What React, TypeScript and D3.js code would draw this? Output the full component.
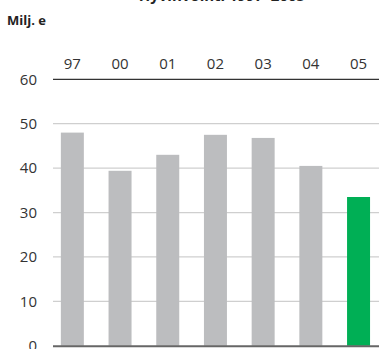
import React from "react";
import * as d3 from "d3";

const categories = ["97", "00", "01", "02", "03", "04", "05"];
const values = [48.0, 39.4, 43.0, 47.5, 46.8, 40.5, 33.5];
const yTicks = [0, 10, 20, 30, 40, 50, 60];
const unitLabel = "Milj. e";
const title = "Hyvinvointi 1997–2005";

const W = 379;
const H = 349;

export default function App() {
  const x = d3
    .scaleBand<string>()
    .domain(categories)
    .range([48.5, 382.4])
    .paddingInner(0.518)
    .paddingOuter(0.259);
  const y = d3.scaleLinear().domain([0, 60]).range([345.8, 79.3]);
  const font = "'Open Sans', 'Noto Sans', sans-serif";
  return (
    <svg
      width={W}
      height={H}
      style={{ position: "absolute", left: 0, top: 0, background: "#fff" }}
      fontFamily={font}
    >
      <text x={222} y={1} textAnchor="middle" fontSize={15} fontWeight={700} fill="#222">
        {title}
      </text>
      <text x={7} y={25} fontSize={13} fontWeight={700} fill="#222">
        {unitLabel}
      </text>
      {yTicks.map((t) => (
        <g key={t}>
          {t !== 0 && t !== 60 && (
            <line x1={53} x2={379} y1={y(t)} y2={y(t)} stroke="#cfcfcf" strokeWidth={1.3} />
          )}
          <text
            x={37}
            y={y(t)}
            dy="0.35em"
            textAnchor="end"
            fontSize={15}
            fill="#333"
          >
            {t}
          </text>
        </g>
      ))}
      {categories.map((c, i) => (
        <g key={c}>
          <rect
            x={x(c)}
            y={y(values[i])}
            width={x.bandwidth()}
            height={y(0) - y(values[i])}
            fill={i === categories.length - 1 ? "#00af55" : "#bcbdbf"}
          />
          <text
            x={(x(c) as number) + x.bandwidth() / 2}
            y={63.5}
            dy="0.35em"
            textAnchor="middle"
            fontSize={15}
            fill="#333"
          >
            {c}
          </text>
        </g>
      ))}
      <line x1={53} x2={379} y1={y(60)} y2={y(60)} stroke="#333" strokeWidth={1.3} />
      <line x1={53} x2={379} y1={y(0) + 0.5} y2={y(0) + 0.5} stroke="#666" strokeWidth={2} />
    </svg>
  );
}
